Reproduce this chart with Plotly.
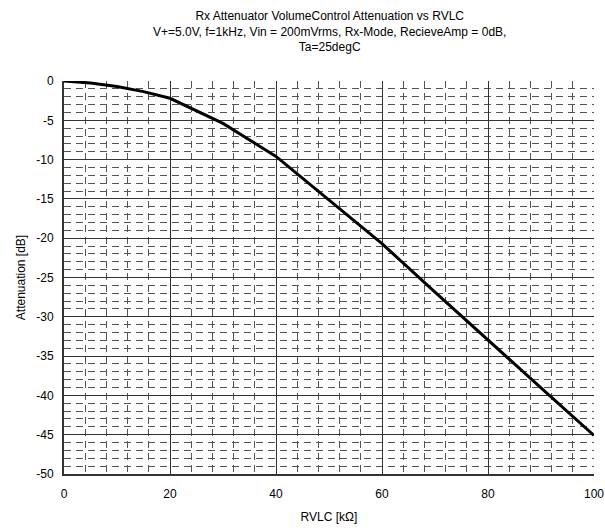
import plotly.graph_objects as go

# RVLC resistance [kOhm] and measured attenuation [dB]
rvlc_kohm = [0, 5, 10, 15, 20, 30, 40, 50, 60, 70, 80, 90, 100]
attenuation_db = [0.0, -0.25, -0.7, -1.35, -2.2, -5.4, -9.6, -15.1, -20.7, -26.85, -33.0, -39.05, -45.1]

x_ticks = [0, 20, 40, 60, 80, 100]
y_ticks = [0, -5, -10, -15, -20, -25, -30, -35, -40, -45, -50]

title_lines = [
    "Rx Attenuator VolumeControl Attenuation vs RVLC",
    "V+=5.0V, f=1kHz, Vin = 200mVrms, Rx-Mode, RecieveAmp = 0dB,",
    "Ta=25degC",
]

font_family = "Liberation Sans, Arial, sans-serif"

fig = go.Figure()
fig.add_trace(go.Scatter(
    x=rvlc_kohm, y=attenuation_db, mode="lines",
    line=dict(color="black", width=3),
    showlegend=False, hoverinfo="skip",
))

fig.update_layout(
    width=605, height=530,
    margin=dict(l=64, r=11, t=81, b=56),
    paper_bgcolor="white", plot_bgcolor="white",
    font=dict(family=font_family, size=12, color="black"),
)

# three-line chart title centred over the plot area
fig.add_annotation(
    text="<br>".join(title_lines),
    xref="paper", yref="paper", x=0.5, y=1,
    xanchor="center", yanchor="bottom", yshift=25,
    showarrow=False, align="center",
    font=dict(family=font_family, size=12, color="black"),
)

fig.update_xaxes(
    range=[0, 100], tickvals=x_ticks, ticktext=[str(v) for v in x_ticks],
    showline=True, linecolor="#333", linewidth=2,
    showgrid=True, gridcolor="#333", gridwidth=1,
    zeroline=False, ticks="", ticklen=0, ticklabelstandoff=8,
    automargin=False,
    minor=dict(dtick=4, tick0=0, showgrid=True, gridcolor="#555",
               gridwidth=1, griddash="7px,5px"),
    title=dict(text="RVLC [kΩ]", standoff=12,
               font=dict(family=font_family, size=12, color="black")),
    tickfont=dict(size=12),
)
fig.update_yaxes(
    range=[-50, 0], tickvals=y_ticks, ticktext=[str(v) for v in y_ticks],
    showline=True, linecolor="#333", linewidth=2,
    showgrid=True, gridcolor="#333", gridwidth=1,
    zeroline=False, ticks="", ticklen=0, ticklabelstandoff=6,
    automargin=False,
    minor=dict(dtick=1, tick0=0, showgrid=True, gridcolor="#555",
               gridwidth=1, griddash="7px,5px"),
    title=dict(text="Attenuation [dB]", standoff=8,
               font=dict(family=font_family, size=12, color="black")),
    tickfont=dict(size=12),
)

fig.write_html("out.html")
